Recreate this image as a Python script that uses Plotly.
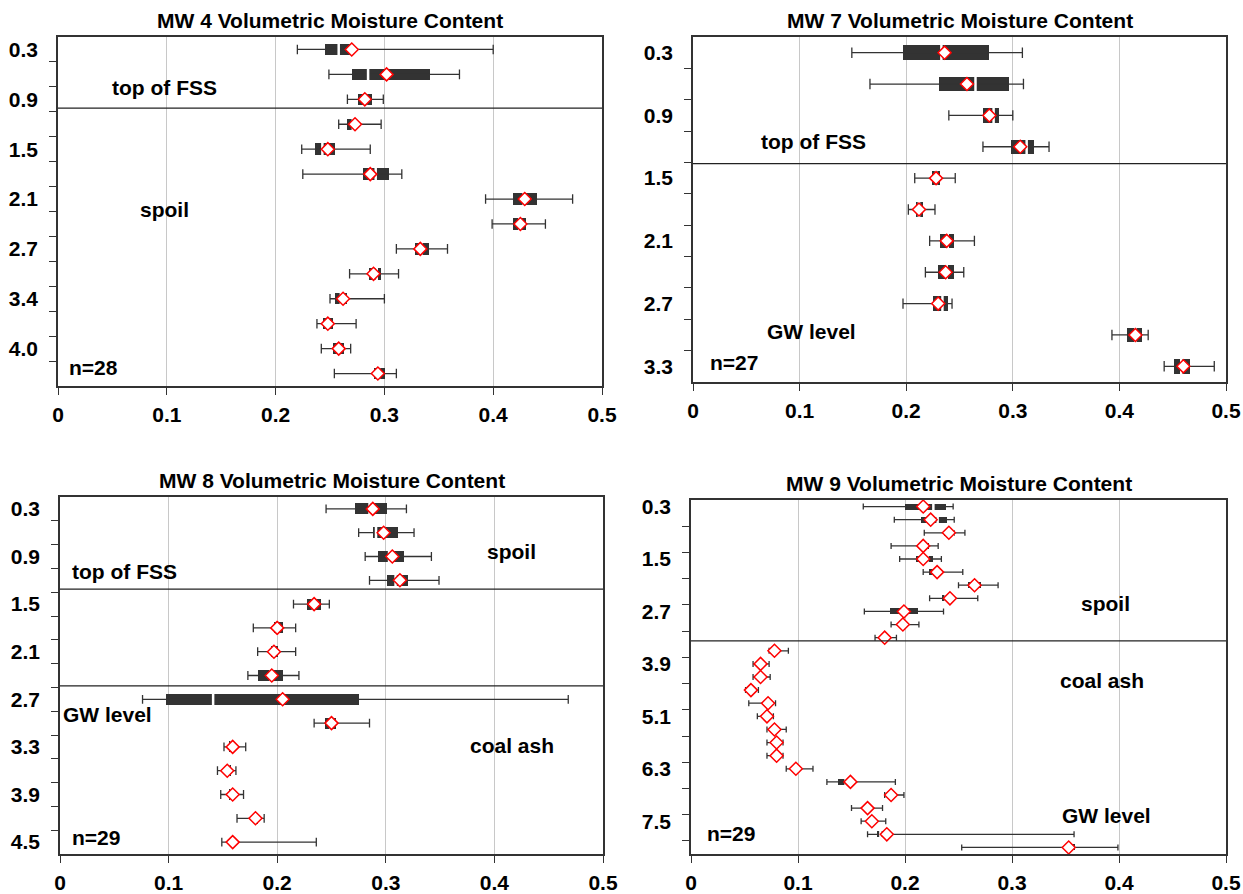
import plotly.graph_objects as go

# ---------------- data ----------------
mw4_depth = ["0.3", "0.6", "0.9", "1.2", "1.5", "1.8", "2.1", "2.4", "2.7", "3.0", "3.4", "3.7", "4.0", "4.3"]
mw4_min = [0.220, 0.249, 0.266, 0.258, 0.224, 0.225, 0.393, 0.399, 0.311, 0.268, 0.250, 0.238, 0.242, 0.254]
mw4_q1 = [0.245, 0.270, 0.276, 0.266, 0.236, 0.280, 0.418, 0.418, 0.328, 0.286, 0.255, 0.244, 0.253, 0.290]
mw4_med = [0.258, 0.285, 0.283, 0.271, 0.243, 0.292, 0.428, 0.424, 0.334, 0.293, 0.260, 0.248, 0.258, 0.295]
mw4_q3 = [0.272, 0.342, 0.289, 0.273, 0.255, 0.304, 0.440, 0.430, 0.341, 0.297, 0.266, 0.253, 0.263, 0.301]
mw4_max = [0.400, 0.369, 0.299, 0.297, 0.287, 0.316, 0.473, 0.448, 0.358, 0.313, 0.300, 0.274, 0.269, 0.311]
mw4_mean = [0.270, 0.302, 0.282, 0.273, 0.248, 0.287, 0.429, 0.425, 0.333, 0.290, 0.262, 0.248, 0.258, 0.294]

mw7_depth = ["0.3", "0.6", "0.9", "1.2", "1.5", "1.8", "2.1", "2.4", "2.7", "3.0", "3.3"]
mw7_min = [0.149, 0.166, 0.240, 0.272, 0.208, 0.202, 0.222, 0.218, 0.197, 0.393, 0.442]
mw7_q1 = [0.197, 0.231, 0.272, 0.298, 0.224, 0.209, 0.232, 0.230, 0.225, 0.407, 0.451]
mw7_med = [0.233, 0.265, 0.282, 0.313, 0.228, 0.212, 0.239, 0.238, 0.234, 0.415, 0.458]
mw7_q3 = [0.278, 0.296, 0.287, 0.320, 0.232, 0.216, 0.245, 0.245, 0.239, 0.421, 0.466]
mw7_max = [0.309, 0.310, 0.300, 0.334, 0.246, 0.227, 0.264, 0.254, 0.243, 0.427, 0.489]
mw7_mean = [0.236, 0.257, 0.278, 0.307, 0.228, 0.212, 0.238, 0.237, 0.230, 0.415, 0.460]

mw8_depth = ["0.3", "0.6", "0.9", "1.2", "1.5", "1.8", "2.1", "2.4", "2.7", "3.0", "3.3", "3.6", "3.9", "4.2", "4.5"]
mw8_min = [0.245, 0.275, 0.281, 0.285, 0.215, 0.178, 0.182, 0.173, 0.076, 0.234, 0.151, 0.145, 0.148, 0.163, 0.149]
mw8_q1 = [0.272, 0.288, 0.293, 0.301, 0.227, 0.197, 0.194, 0.182, 0.098, 0.244, 0.156, 0.153, 0.156, 0.179, 0.153]
mw8_med = [0.285, 0.291, 0.303, 0.309, 0.233, 0.200, 0.197, 0.194, 0.141, 0.249, 0.158, 0.155, 0.158, 0.180, 0.154]
mw8_q3 = [0.301, 0.311, 0.317, 0.320, 0.240, 0.205, 0.201, 0.205, 0.275, 0.254, 0.159, 0.157, 0.159, 0.182, 0.155]
mw8_max = [0.319, 0.326, 0.342, 0.349, 0.248, 0.217, 0.217, 0.220, 0.468, 0.285, 0.171, 0.162, 0.169, 0.188, 0.236]
mw8_mean = [0.288, 0.298, 0.306, 0.313, 0.234, 0.200, 0.197, 0.195, 0.205, 0.250, 0.159, 0.154, 0.159, 0.180, 0.159]

mw9_depth = ["0.3", "0.6", "0.9", "1.2", "1.5", "1.8", "2.1", "2.4", "2.7", "3.0", "3.3", "3.6", "3.9", "4.2",
             "4.5", "4.8", "5.1", "5.4", "5.7", "6.0", "6.3", "6.6", "6.9", "7.2", "7.5", "7.8", "8.1"]
mw9_min = [0.161, 0.190, 0.218, 0.187, 0.195, 0.217, 0.250, 0.223, 0.162, 0.187, 0.172, 0.073, 0.058, 0.058,
           0.051, 0.054, 0.062, 0.071, 0.071, 0.071, 0.089, 0.127, 0.181, 0.150, 0.159, 0.165, 0.253]
mw9_q1 = [0.200, 0.215, 0.236, 0.217, 0.210, 0.222, 0.259, 0.235, 0.186, 0.194, 0.178, 0.076, 0.063, 0.063,
          0.054, 0.068, 0.068, 0.076, 0.077, 0.077, 0.094, 0.137, 0.184, 0.163, 0.167, 0.174, 0.350]
mw9_med = [0.2265, 0.2305, 0.245, 0.220, 0.221, 0.229, 0.266, 0.238, 0.197, 0.197, 0.181, 0.078, 0.065, 0.065,
           0.056, 0.071, 0.070, 0.078, 0.079, 0.079, 0.097, 0.1445, 0.187, 0.165, 0.169, 0.177, 0.353]
mw9_q3 = [0.238, 0.239, 0.247, 0.222, 0.226, 0.234, 0.271, 0.239, 0.212, 0.201, 0.184, 0.080, 0.067, 0.067,
          0.058, 0.073, 0.072, 0.080, 0.081, 0.081, 0.099, 0.145, 0.189, 0.167, 0.171, 0.179, 0.359]
mw9_max = [0.245, 0.246, 0.256, 0.231, 0.234, 0.254, 0.287, 0.268, 0.236, 0.213, 0.192, 0.091, 0.073, 0.074,
           0.063, 0.079, 0.077, 0.089, 0.086, 0.086, 0.114, 0.191, 0.199, 0.179, 0.182, 0.358, 0.399]
mw9_mean = [0.217, 0.224, 0.241, 0.217, 0.217, 0.230, 0.265, 0.242, 0.199, 0.198, 0.181, 0.078, 0.065, 0.065,
            0.056, 0.072, 0.071, 0.078, 0.080, 0.080, 0.098, 0.149, 0.187, 0.165, 0.169, 0.183, 0.353]

titles = ["MW 4 Volumetric Moisture Content", "MW 7 Volumetric Moisture Content",
          "MW 8 Volumetric Moisture Content", "MW 9 Volumetric Moisture Content"]
x_tick_vals = [0, 0.1, 0.2, 0.3, 0.4, 0.5]
x_tick_text = ["0", "0.1", "0.2", "0.3", "0.4", "0.5"]

# ---------------- layout helpers ----------------
FONT = "Liberation Sans, Arial, sans-serif"
DARK = "#333333"
W, H = 1243, 894

panels = [
    dict(depth=mw4_depth, mn=mw4_min, q1=mw4_q1, med=mw4_med, q3=mw4_q3, mx=mw4_max, mean=mw4_mean,
         dom_x=[58 / W, 602 / W], dom_y=[1 - 386 / H, 1 - 37 / H], label_step=2, tick_step=1,
         med_px=12, seps=[2.35],
         notes=[("top of FSS", 0.098, 1.54), ("spoil", 0.098, 6.42), ("n=28", 0.033, 12.74)]),
    dict(depth=mw7_depth, mn=mw7_min, q1=mw7_q1, med=mw7_med, q3=mw7_q3, mx=mw7_max, mean=mw7_mean,
         dom_x=[693 / W, 1226 / W], dom_y=[1 - 382 / H, 1 - 37 / H], label_step=2, tick_step=1,
         med_px=13, seps=[3.54],
         notes=[("top of FSS", 0.1126, 2.84), ("GW level", 0.1116, 8.9), ("n=27", 0.038, 9.88)]),
    dict(depth=mw8_depth, mn=mw8_min, q1=mw8_q1, med=mw8_med, q3=mw8_q3, mx=mw8_max, mean=mw8_mean,
         dom_x=[60 / W, 603 / W], dom_y=[1 - 854 / H, 1 - 497 / H], label_step=2, tick_step=1,
         med_px=11, seps=[3.37, 7.44],
         notes=[("top of FSS", 0.059, 2.61), ("spoil", 0.416, 1.77), ("GW level", 0.044, 8.62),
                ("coal ash", 0.416, 9.96), ("n=29", 0.033, 13.79)]),
    dict(depth=mw9_depth, mn=mw9_min, q1=mw9_q1, med=mw9_med, q3=mw9_q3, mx=mw9_max, mean=mw9_mean,
         dom_x=[691 / W, 1226 / W], dom_y=[1 - 854 / H, 1 - 500 / H], label_step=4, tick_step=2,
         med_px=6, seps=[10.25],
         notes=[("spoil", 0.387, 7.43), ("coal ash", 0.384, 13.23), ("GW level", 0.388, 23.53),
                ("n=29", 0.0374, 24.9)]),
]

fig = go.Figure()
shapes = []
annotations = []

for k, p in enumerate(panels):
    sfx = "" if k == 0 else str(k + 1)
    xa, ya = "x" + sfx, "y" + sfx
    n = len(p["depth"])
    ys = list(range(n))

    # whiskers (min to max with caps)
    fig.add_trace(go.Scatter(
        x=p["med"], y=ys, mode="markers", marker=dict(size=2, color="rgba(0,0,0,0)"),
        error_x=dict(type="data", symmetric=False,
                     array=[b - m for b, m in zip(p["mx"], p["med"])],
                     arrayminus=[m - a for a, m in zip(p["mn"], p["med"])],
                     color=DARK, thickness=1.3, width=max(3, p["med_px"] * 0.4)),
        xaxis=xa, yaxis=ya, showlegend=False, hoverinfo="skip"))
    # interquartile box
    fig.add_trace(go.Bar(
        x=[b - a for a, b in zip(p["q1"], p["q3"])], base=p["q1"], y=ys, orientation="h",
        width=0.46, marker=dict(color=DARK, line=dict(width=0)),
        xaxis=xa, yaxis=ya, showlegend=False, hoverinfo="skip"))
    # median (white gap)
    fig.add_trace(go.Scatter(
        x=p["med"], y=ys, mode="markers",
        marker=dict(symbol="line-ns", size=p["med_px"], line=dict(color="white", width=2.5)),
        xaxis=xa, yaxis=ya, showlegend=False, hoverinfo="skip"))
    # mean diamond
    fig.add_trace(go.Scatter(
        x=p["mean"], y=ys, mode="markers",
        marker=dict(symbol="diamond", size=10, color="white", line=dict(color="red", width=1.5)),
        xaxis=xa, yaxis=ya, showlegend=False, hoverinfo="skip"))

    tickfont = dict(family=FONT, size=21, color="black", weight="bold")
    fig.layout["xaxis" + sfx] = dict(
        domain=p["dom_x"], anchor=ya, range=[0, 0.5], tickmode="array",
        tickvals=x_tick_vals, ticktext=x_tick_text, tickfont=tickfont, automargin=False,
        showgrid=True, gridcolor="#c8c8c8", gridwidth=1, zeroline=False,
        showline=True, mirror=True, linecolor=DARK, linewidth=1.5,
        ticks="outside", ticklen=7, tickcolor=DARK, tickwidth=1.3, ticklabelstandoff=2)
    boundaries = [i + 0.5 for i in range(p["tick_step"] - 1, n - 1, p["tick_step"])]
    fig.layout["yaxis" + sfx] = dict(
        domain=p["dom_y"], anchor=xa, range=[n - 0.5, -0.5], tickmode="array",
        tickvals=ys[::p["label_step"]], ticktext=p["depth"][::p["label_step"]], tickfont=tickfont,
        ticks="", showgrid=False, zeroline=False, automargin=False,
        showline=True, mirror=True, linecolor=DARK, linewidth=1.5, ticklabelstandoff=14,
        minor=dict(tickmode="array", tickvals=boundaries, ticks="outside", ticklen=7,
                   tickcolor=DARK, tickwidth=1.3, showgrid=False))

    for s in p["seps"]:
        shapes.append(dict(type="line", xref=xa + " domain", yref=ya, x0=0, x1=1, y0=s, y1=s,
                           line=dict(color="#222222", width=1.3), layer="above"))
    annotations.append(dict(text=titles[k], xref=xa + " domain", yref=ya + " domain", x=0.5, y=1,
                            xanchor="center", yanchor="bottom", yshift=3, showarrow=False,
                            font=dict(family=FONT, size=21, color="black", weight="bold")))
    for txt, tx, ty in p["notes"]:
        annotations.append(dict(text=txt, xref=xa, yref=ya, x=tx, y=ty, xanchor="center", yanchor="middle",
                                showarrow=False, font=dict(family=FONT, size=21, color="black", weight="bold")))

fig.update_layout(width=W, height=H, margin=dict(l=0, r=0, t=0, b=0),
                  plot_bgcolor="white", paper_bgcolor="white", shapes=shapes, annotations=annotations,
                  bargap=0, showlegend=False)

fig.write_html("out.html", config={"displayModeBar": False},
               post_script="document.body.style.margin='0';document.body.style.overflow='hidden';")
